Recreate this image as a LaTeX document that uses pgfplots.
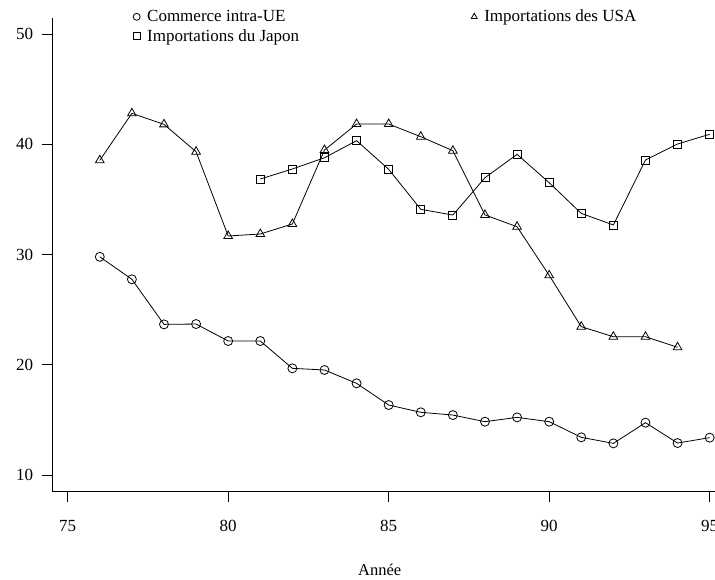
\documentclass[border=0pt]{standalone}
\usepackage{fontspec}
\setmainfont{Liberation Serif}
\usepackage{pgfplots}
\pgfplotsset{compat=1.18}
\begin{document}
\begin{tikzpicture}
\path[use as bounding box] (0,0) rectangle (715pt,579pt);
\clip (0,0) rectangle (715pt,579pt);
\begin{axis}[
 at={(52pt,87.3pt)}, anchor=south west,
 scale only axis, width=670.5pt, height=474pt,
 xmin=74.511, xmax=95.4, ymin=8.485, ymax=51.5,
 axis x line=bottom, axis y line=left,
 axis line style={-, line width=0.8pt, black},
 tick align=outside, major tick length=10pt,
 tick style={line width=0.8pt, black},
 xtick={75,80,85,90,95}, ytick={10,20,30,40,50},
 minor tick num=0,
 /pgf/number format/assume math mode=true,
 tick label style={font=\fontsize{17}{20}\selectfont},
 yticklabel style={xshift=-5.3pt},
 xticklabel style={yshift=-14.8pt},
 xlabel={Année},
 xlabel style={font=\fontsize{16.5}{20}\selectfont, at={(axis cs:84.72,8.485)}, anchor=base, yshift=-84pt},
 legend columns=2,
 legend cell align=left,
 legend style={draw=none, fill=none, at={(axis description cs:0.1163,1.0248)}, anchor=north west,
   font=\fontsize{17}{20}\selectfont, row sep=2pt,
   /tikz/every odd column/.append style={column sep=5pt},
   /tikz/every even column/.append style={column sep=170pt}},
 legend image code/.code={\draw[#1, mark size=3.5pt] plot[only marks] coordinates {(0.15cm,0cm)};},
 every axis plot/.append style={black, line width=0.8pt, mark options={solid, line width=0.8pt}},
]
\addplot[mark=o, mark size=4.5pt] coordinates {
(76,29.8) (77,27.76) (78,23.67) (79,23.7) (80,22.16) (81,22.16) (82,19.68) (83,19.53) (84,18.32) (85,16.35)
(86,15.69) (87,15.44) (88,14.84) (89,15.23) (90,14.84) (91,13.42) (92,12.87) (93,14.75) (94,12.9) (95,13.39)};
\addlegendentry{Commerce intra-UE}
\addplot[mark=triangle, mark size=5pt] coordinates {
(76,38.56) (77,42.82) (78,41.82) (79,39.34) (80,31.69) (81,31.87) (82,32.78) (83,39.49) (84,41.85) (85,41.85)
(86,40.7) (87,39.43) (88,33.6) (89,32.53) (90,28.12) (91,23.46) (92,22.55) (93,22.55) (94,21.59)};
\addlegendentry{Importations des USA}
\addplot[mark=square, mark size=4pt] coordinates {
(81,36.86) (82,37.77) (83,38.79) (84,40.34) (85,37.74) (86,34.11) (87,33.59) (88,36.98) (89,39.1) (90,36.53)
(91,33.74) (92,32.69) (93,38.58) (94,40.04) (95,40.92)};
\addlegendentry{Importations du Japon}
\end{axis}
\end{tikzpicture}
\end{document}
